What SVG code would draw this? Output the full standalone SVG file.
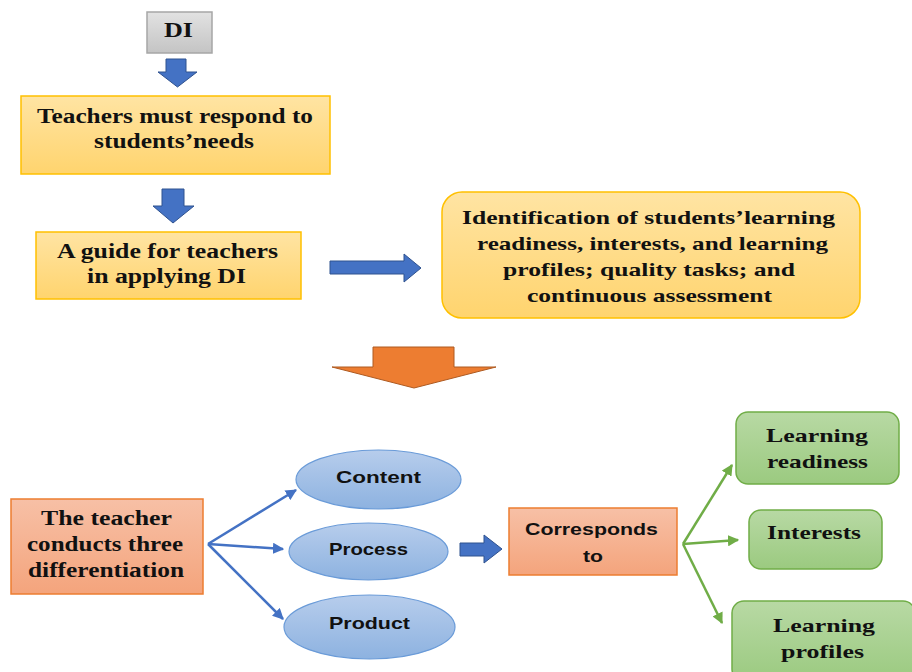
<svg xmlns="http://www.w3.org/2000/svg" width="912" height="672" viewBox="0 0 912 672">
  <defs>
    <linearGradient id="gGray" x1="0" y1="0" x2="0" y2="1">
      <stop offset="0" stop-color="#e2e2e2"/>
      <stop offset="1" stop-color="#c4c4c4"/>
    </linearGradient>
    <linearGradient id="gGold" x1="0" y1="0" x2="0" y2="1">
      <stop offset="0" stop-color="#ffe4a3"/>
      <stop offset="1" stop-color="#ffd46e"/>
    </linearGradient>
    <linearGradient id="gSalmon" x1="0" y1="0" x2="0" y2="1">
      <stop offset="0" stop-color="#f7c0a6"/>
      <stop offset="1" stop-color="#f4a47c"/>
    </linearGradient>
    <linearGradient id="gBlue" x1="0" y1="0" x2="0" y2="1">
      <stop offset="0" stop-color="#b7cdec"/>
      <stop offset="1" stop-color="#8db2e0"/>
    </linearGradient>
    <linearGradient id="gGreen" x1="0" y1="0" x2="0" y2="1">
      <stop offset="0" stop-color="#b8d9a4"/>
      <stop offset="1" stop-color="#9bca80"/>
    </linearGradient>
    <marker id="headBlue" viewBox="0 0 10 10" refX="9" refY="5" markerWidth="4.5" markerHeight="4.5" orient="auto" markerUnits="strokeWidth">
      <path d="M0,0 L10,5 L0,10 z" fill="#4472c4"/>
    </marker>
    <marker id="headGreen" viewBox="0 0 10 10" refX="9" refY="5" markerWidth="4.5" markerHeight="4.5" orient="auto" markerUnits="strokeWidth">
      <path d="M0,0 L10,5 L0,10 z" fill="#70ad47"/>
    </marker>
  </defs>
  <style>
    .serif { font-family: "Liberation Serif", "Times New Roman", serif; font-weight: bold; fill: #111; }
    .sans { font-family: "Liberation Sans", Arial, sans-serif; font-weight: bold; fill: #111; }
    .gray { fill: url(#gGray); stroke: #a6a6a6; stroke-width: 1.5; }
    .gold { fill: url(#gGold); stroke: #ffc000; stroke-width: 1.5; }
    .salmon { fill: url(#gSalmon); stroke: #ed7d31; stroke-width: 1.5; }
    .oval { fill: url(#gBlue); stroke: #6a9bd8; stroke-width: 1.2; }
    .green { fill: url(#gGreen); stroke: #70ad47; stroke-width: 1.5; }
    .blockBlue { fill: #4472c4; stroke: #2f528f; stroke-width: 1; }
    .blockOrange { fill: #ed7d31; stroke: #ae5a21; stroke-width: 1; }
    .lineBlue { stroke: #4472c4; stroke-width: 2.5; fill: none; marker-end: url(#headBlue); }
    .lineGreen { stroke: #70ad47; stroke-width: 2.5; fill: none; marker-end: url(#headGreen); }
  </style>

  <g id="connectors">
    <!-- block arrows -->
    <path class="blockBlue" d="M166,59 H186 V72 H197 L177.5,87 L158,72 H166 Z"/>
    <path class="blockBlue" d="M162,189 H184 V206 H194 L173,223 L153,206 H162 Z"/>
    <path class="blockBlue" d="M330,261 H404 V254 L421,268 L404,282 V274 H330 Z"/>
    <path class="blockOrange" d="M373,347 H454 V367 H496 L414,388 L332,367 H373 Z"/>
    <path class="blockBlue" d="M460,543 H484 V535 L502,549 L484,563 V556 H460 Z"/>
    <!-- fan-out lines -->
    <path class="lineBlue" d="M208,544 L296,490"/>
    <path class="lineBlue" d="M208,544 L283,549"/>
    <path class="lineBlue" d="M208,544 L283,619"/>
    <path class="lineGreen" d="M683,544 L732,465"/>
    <path class="lineGreen" d="M683,544 L738,540"/>
    <path class="lineGreen" d="M683,544 L722,623"/>
  </g>

  <g id="node-di">
    <rect class="gray" x="147" y="12" width="65" height="41"/>
    <text class="serif" x="178.5" y="37" font-size="20" text-anchor="middle" textLength="29" lengthAdjust="spacingAndGlyphs">DI</text>
  </g>

  <g id="node-respond">
    <rect class="gold" x="21" y="96" width="309" height="78"/>
    <text class="serif" x="175" y="123" font-size="20" text-anchor="middle" textLength="276" lengthAdjust="spacingAndGlyphs">Teachers must respond to</text>
    <text class="serif" x="174" y="148" font-size="20" text-anchor="middle" textLength="160" lengthAdjust="spacingAndGlyphs">students’needs</text>
  </g>

  <g id="node-guide">
    <rect class="gold" x="36" y="232" width="265" height="67"/>
    <text class="serif" x="167.5" y="258" font-size="20" text-anchor="middle" textLength="221" lengthAdjust="spacingAndGlyphs">A guide for teachers</text>
    <text class="serif" x="166.5" y="283" font-size="20" text-anchor="middle" textLength="159" lengthAdjust="spacingAndGlyphs">in applying DI</text>
  </g>

  <g id="node-identification">
    <rect class="gold" x="442" y="192" width="418" height="126" rx="20" ry="20"/>
    <text class="serif" x="648.5" y="224" font-size="19" text-anchor="middle" textLength="373" lengthAdjust="spacingAndGlyphs">Identification of students’learning</text>
    <text class="serif" x="652.5" y="250" font-size="19" text-anchor="middle" textLength="351" lengthAdjust="spacingAndGlyphs">readiness, interests, and learning</text>
    <text class="serif" x="649" y="276" font-size="19" text-anchor="middle" textLength="292" lengthAdjust="spacingAndGlyphs">profiles; quality tasks; and</text>
    <text class="serif" x="649.5" y="302" font-size="19" text-anchor="middle" textLength="245" lengthAdjust="spacingAndGlyphs">continuous assessment</text>
  </g>

  <g id="node-teacher">
    <rect class="salmon" x="11" y="499" width="192" height="95"/>
    <text class="serif" x="106.5" y="525" font-size="20" text-anchor="middle" textLength="131" lengthAdjust="spacingAndGlyphs">The teacher</text>
    <text class="serif" x="105" y="551" font-size="20" text-anchor="middle" textLength="156" lengthAdjust="spacingAndGlyphs">conducts three</text>
    <text class="serif" x="106" y="577" font-size="20" text-anchor="middle" textLength="156" lengthAdjust="spacingAndGlyphs">differentiation</text>
  </g>

  <g id="node-content">
    <ellipse class="oval" cx="378.5" cy="479.5" rx="82.5" ry="29.5"/>
    <text class="sans" x="378.5" y="483" font-size="17" text-anchor="middle" textLength="85" lengthAdjust="spacingAndGlyphs">Content</text>
  </g>

  <g id="node-process">
    <ellipse class="oval" cx="368.5" cy="551.5" rx="79.5" ry="28.5"/>
    <text class="sans" x="368.5" y="555" font-size="17" text-anchor="middle" textLength="79" lengthAdjust="spacingAndGlyphs">Process</text>
  </g>

  <g id="node-product">
    <ellipse class="oval" cx="369.5" cy="627" rx="85.5" ry="32"/>
    <text class="sans" x="369.5" y="629" font-size="17" text-anchor="middle" textLength="81" lengthAdjust="spacingAndGlyphs">Product</text>
  </g>

  <g id="node-corresponds">
    <rect class="salmon" x="509" y="508" width="168" height="67"/>
    <text class="sans" x="591.5" y="535" font-size="17" text-anchor="middle" textLength="133" lengthAdjust="spacingAndGlyphs">Corresponds</text>
    <text class="sans" x="593" y="562" font-size="17" text-anchor="middle" textLength="20" lengthAdjust="spacingAndGlyphs">to</text>
  </g>

  <g id="node-readiness">
    <rect class="green" x="736" y="412" width="163" height="72" rx="12" ry="12"/>
    <text class="serif" x="817" y="442" font-size="19" text-anchor="middle" textLength="102" lengthAdjust="spacingAndGlyphs">Learning</text>
    <text class="serif" x="817.5" y="468" font-size="19" text-anchor="middle" textLength="101" lengthAdjust="spacingAndGlyphs">readiness</text>
  </g>

  <g id="node-interests">
    <rect class="green" x="749" y="510" width="133" height="59" rx="12" ry="12"/>
    <text class="serif" x="814" y="539" font-size="19" text-anchor="middle" textLength="94" lengthAdjust="spacingAndGlyphs">Interests</text>
  </g>

  <g id="node-profiles">
    <rect class="green" x="732" y="601" width="183" height="80" rx="12" ry="12"/>
    <text class="serif" x="824" y="632" font-size="19" text-anchor="middle" textLength="102" lengthAdjust="spacingAndGlyphs">Learning</text>
    <text class="serif" x="822.5" y="658" font-size="19" text-anchor="middle" textLength="83" lengthAdjust="spacingAndGlyphs">profiles</text>
  </g>
</svg>
